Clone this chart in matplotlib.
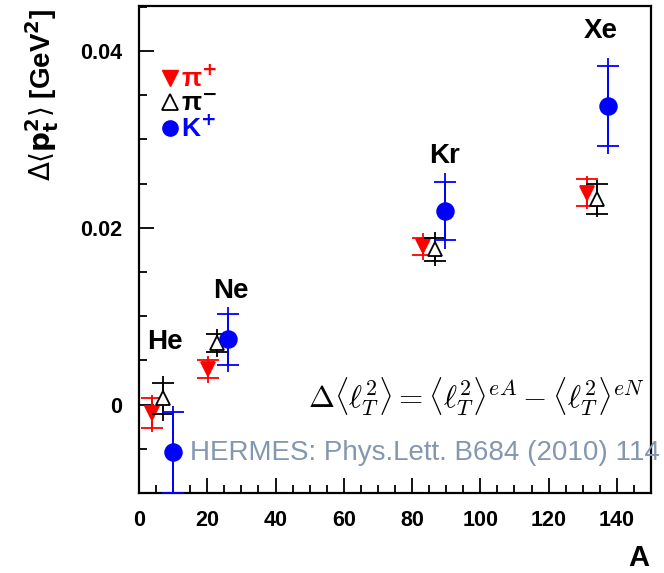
import matplotlib
matplotlib.use('Agg')
import matplotlib.pyplot as plt
from matplotlib.lines import Line2D
from matplotlib.ticker import MultipleLocator

# nuclei and where each series is drawn (slightly shifted in A for visibility)
targets = ['He', 'Ne', 'Kr', 'Xe']
A_pip = [3.8, 20.1, 83.1, 131.3]
A_pim = [6.9, 22.8, 86.7, 134.2]
A_kp = [9.9, 26.0, 89.8, 137.3]

# pi+
dpt_pip = [-0.0010, 0.0040, 0.0179, 0.0240]
stat_pip = [0.0017, 0.0010, 0.0010, 0.0015]
tot_pip = [0.0021, 0.0015, 0.0015, 0.0019]
# pi-
dpt_pim = [0.0007, 0.0070, 0.0176, 0.0233]
stat_pim = [0.0018, 0.0010, 0.0013, 0.0017]
tot_pim = [0.0025, 0.0016, 0.0019, 0.0021]
# K+
dpt_kp = [-0.0054, 0.0074, 0.0219, 0.0338]
stat_kp = [0.0046, 0.0029, 0.0033, 0.0045]
tot_kp = [0.0052, 0.0037, 0.0043, 0.0054]

# target label anchors
lab_A = [7.6, 27.0, 89.6, 135.3]
lab_y = [0.0071, 0.0129, 0.0281, 0.0423]

fig = plt.figure(figsize=(6.64, 5.73), dpi=100)
ax = fig.add_axes([0.2093, 0.1396, 0.7711, 0.8499])

series = [
    (A_pip, dpt_pip, stat_pip, tot_pip, 'v', 'red', 'red'),
    (A_pim, dpt_pim, stat_pim, tot_pim, '^', 'black', 'white'),
    (A_kp, dpt_kp, stat_kp, tot_kp, 'o', 'blue', 'blue'),
]
z = 3
for x, y, st, tot, m, c, fc in series:
    # total error: plain line, stat error: caps
    ax.errorbar(x, y, yerr=tot, fmt='none', ecolor=c, elinewidth=1.3, zorder=z)
    ax.errorbar(x, y, yerr=st, fmt=m, color=c, mfc=fc, mec=c, ms=12 if m == 'o' else 10,
                mew=1.3, ecolor=c, elinewidth=1.3, capsize=8, capthick=1.3, zorder=z + 1)
    z += 2

ax.set_xlim(0, 150)
ax.set_ylim(-0.01, 0.0451)
ax.set_xticks([0, 20, 40, 60, 80, 100, 120, 140])
ax.xaxis.set_minor_locator(MultipleLocator(5))
ax.set_yticks([0, 0.02, 0.04])
ax.set_yticklabels(['0', '0.02', '0.04'])
ax.yaxis.set_minor_locator(MultipleLocator(0.005))
ax.tick_params(which='both', direction='in', top=False, right=False, width=1.3)
ax.tick_params(which='major', length=11)
ax.tick_params(which='minor', length=6)
ax.tick_params(axis='x', pad=12)
ax.tick_params(axis='y', pad=12)
for lab in ax.get_xticklabels() + ax.get_yticklabels():
    lab.set_fontfamily('Liberation Sans')
    lab.set_fontweight('bold')
    lab.set_fontsize(15.5)
for sp in ax.spines.values():
    sp.set_linewidth(1.6)

for t, xa, ya in zip(targets, lab_A, lab_y):
    ax.text(xa, ya, t, ha='center', va='center', fontsize=20, fontweight='bold',
            family='Liberation Sans')

handles = [
    Line2D([], [], marker='v', color='red', ls='', ms=11),
    Line2D([], [], marker='^', color='black', mfc='white', ls='', ms=11, mew=1.3),
    Line2D([], [], marker='o', color='blue', ls='', ms=11),
]
labels = ['π$^{\\mathbf{+}}$', 'π$^{\\mathbf{-}}$', 'K$^{\\mathbf{+}}$']
ax.legend(handles, labels, loc='upper left', bbox_to_anchor=(0.02, 0.905), frameon=False,
          handlelength=0.6, handletextpad=0.1, labelspacing=0.0, borderpad=0,
          labelcolor=['red', 'black', 'blue'], prop={'size': 19, 'weight': 'bold', 'family': 'Liberation Sans'})

ax.text(148.3, 0.0009, r'$\Delta\langle\ell_T^2\rangle = \langle\ell_T^2\rangle^{eA} - \langle\ell_T^2\rangle^{eN}$',
        ha='right', va='center', fontsize=22.5, math_fontfamily='cm')
ax.text(14.9, -0.0055, 'HERMES: Phys.Lett. B684 (2010) 114', ha='left', va='center',
        fontsize=20, color='#8497b0', family='Liberation Sans', clip_on=False)

fig.text(42 / 664, 1 - 95 / 573, r'$\Delta\langle \mathbf{p}_\mathbf{t}^\mathbf{2} \rangle$ [GeV$^\mathbf{2}$]',
         rotation=90, ha='center', va='center', fontsize=20, fontweight='bold',
         family='Liberation Sans')
fig.text(639 / 664, 1 - 558 / 573, 'A', ha='center', va='center', fontsize=21,
         fontweight='bold', family='Liberation Sans')

fig.savefig('out.png', dpi=100)
